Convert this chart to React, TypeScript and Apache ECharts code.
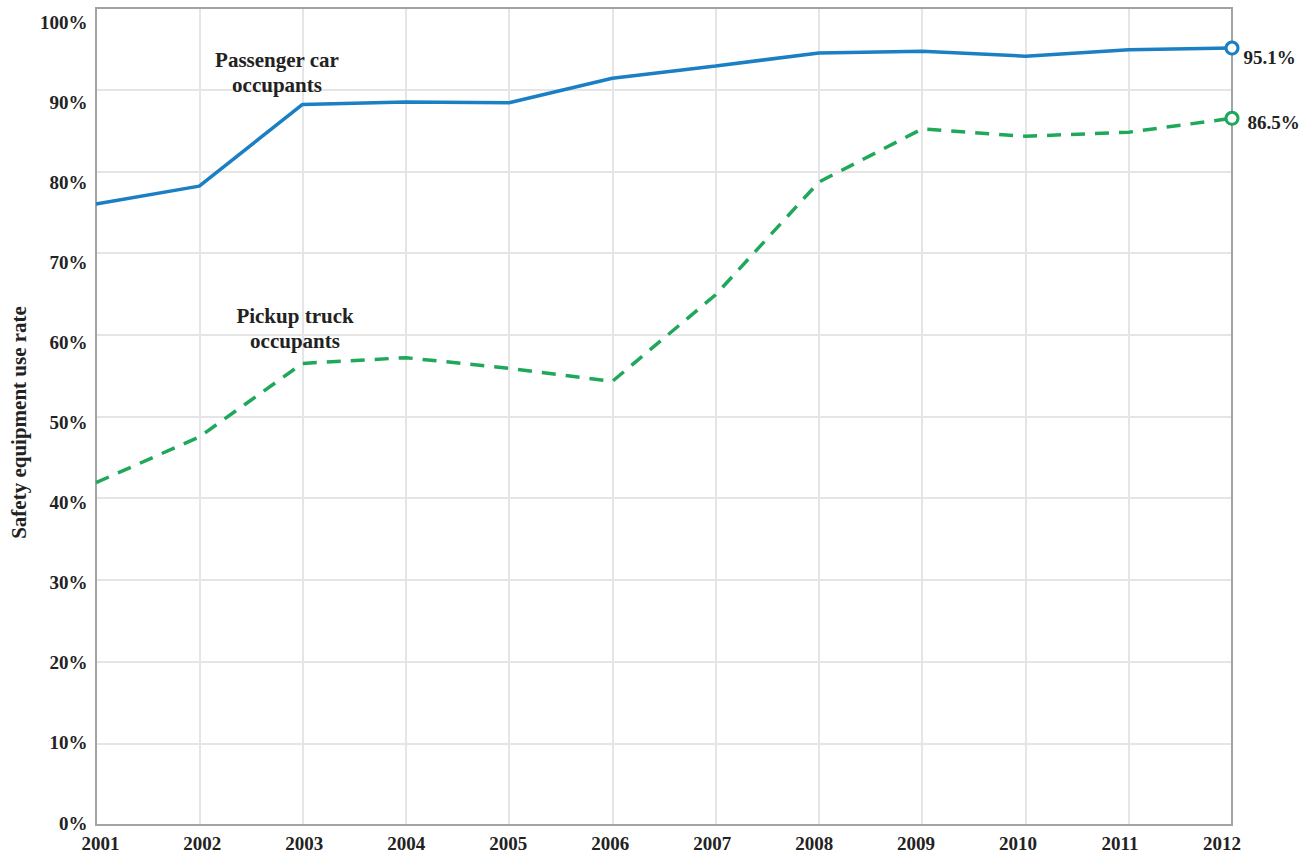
import React, { useEffect, useRef } from "react";
import * as echarts from "echarts";

const years = ["2001", "2002", "2003", "2004", "2005", "2006", "2007", "2008", "2009", "2010", "2011", "2012"];
const passengerCar = [76.0, 78.2, 88.2, 88.5, 88.4, 91.4, 92.9, 94.5, 94.7, 94.1, 94.9, 95.1];
const pickupTruck = [41.9, 47.5, 56.5, 57.2, 55.9, 54.3, 64.9, 78.7, 85.2, 84.3, 84.8, 86.5];

const FONT = "Liberation Serif, DejaVu Serif, serif";
const BLUE = "#1b7fc4";
const GREEN = "#1fa85a";

export default function App() {
  const ref = useRef<HTMLDivElement>(null);
  useEffect(() => {
    if (!ref.current) return;
    const chart = echarts.init(ref.current, undefined, { renderer: "svg" });
    const last = years.length - 1;
    const mkData = (arr: number[], offset: number[]) =>
      arr.map((v, i) =>
        i === last
          ? {
              value: v,
              label: {
                show: true,
                position: "right",
                distance: 4,
                offset,
                formatter: (p: any) => `${p.value}%`,
                fontFamily: FONT,
                fontWeight: "bold",
                fontSize: 19,
                color: "#222",
              },
            }
          : v
      );
    const annotStyle = {
      font: `bold 21px ${FONT}`,
      lineHeight: 25,
      fill: "#222",
      align: "center",
      verticalAlign: "middle",
    };
    chart.setOption({
      animation: false,
      backgroundColor: "#fff",
      textStyle: { fontFamily: FONT },
      grid: [
        { left: 96, right: 77, top: 8, bottom: 32, show: true, borderColor: "#a3a3a3", borderWidth: 2, backgroundColor: "transparent", z: 3 },
        { left: 95, right: 87, top: 22, bottom: 34 },
      ],
      xAxis: [
        {
          gridIndex: 0,
          type: "category",
          data: years,
          boundaryGap: false,
          axisLine: { show: false },
          axisTick: { show: false },
          axisLabel: { show: false },
          splitLine: { show: true, lineStyle: { color: "#e5e5e5", width: 2 } },
        },
        {
          gridIndex: 1,
          type: "category",
          data: years,
          boundaryGap: false,
          axisLine: { show: false },
          axisTick: { show: false },
          splitLine: { show: false },
          axisLabel: { margin: 11, fontFamily: FONT, fontWeight: "bold", fontSize: 19, color: "#222" },
        },
      ],
      yAxis: [
        {
          gridIndex: 0,
          type: "value",
          min: 0,
          max: 100,
          interval: 10,
          axisLine: { show: false },
          axisTick: { show: false },
          axisLabel: { show: false },
          splitLine: { show: true, lineStyle: { color: "#e5e5e5", width: 2 } },
        },
        {
          gridIndex: 1,
          type: "value",
          min: 0,
          max: 100,
          interval: 10,
          axisLine: { show: false },
          axisTick: { show: false },
          splitLine: { show: false },
          name: "Safety equipment use rate",
          nameLocation: "middle",
          nameGap: 67,
          nameRotate: 90,
          nameTextStyle: { fontFamily: FONT, fontWeight: "bold", fontSize: 21, color: "#222" },
          axisLabel: { margin: 13, formatter: "{value}%", fontFamily: FONT, fontWeight: "bold", fontSize: 19, color: "#222" },
        },
      ],
      series: [
        {
          name: "Passenger car occupants",
          type: "line",
          xAxisIndex: 0,
          yAxisIndex: 0,
          data: mkData(passengerCar, [0, 9]),
          symbol: (_v: any, p: any) => (p.dataIndex === last ? "circle" : "none"),
          symbolSize: 12,
          showSymbol: true,
          lineStyle: { color: BLUE, width: 3.5 },
          itemStyle: { color: "#fff", borderColor: BLUE, borderWidth: 3 },
          z: 5,
        },
        {
          name: "Pickup truck occupants",
          type: "line",
          xAxisIndex: 0,
          yAxisIndex: 0,
          data: mkData(pickupTruck, [4, 4]),
          symbol: (_v: any, p: any) => (p.dataIndex === last ? "circle" : "none"),
          symbolSize: 12,
          showSymbol: true,
          lineStyle: { color: GREEN, width: 3.5, type: [14, 10] },
          itemStyle: { color: "#fff", borderColor: GREEN, borderWidth: 3 },
          z: 5,
        },
      ],
      graphic: [
        {
          type: "text",
          z: 100,
          x: 277,
          y: 72,
          style: { text: "Passenger car\noccupants", ...annotStyle },
        },
        {
          type: "text",
          z: 100,
          x: 295,
          y: 328,
          style: { text: "Pickup truck\noccupants", ...annotStyle },
        },
      ],
    });
    return () => chart.dispose();
  }, []);
  return <div ref={ref} style={{ position: "fixed", left: 0, top: 0, width: 1309, height: 857 }} />;
}
